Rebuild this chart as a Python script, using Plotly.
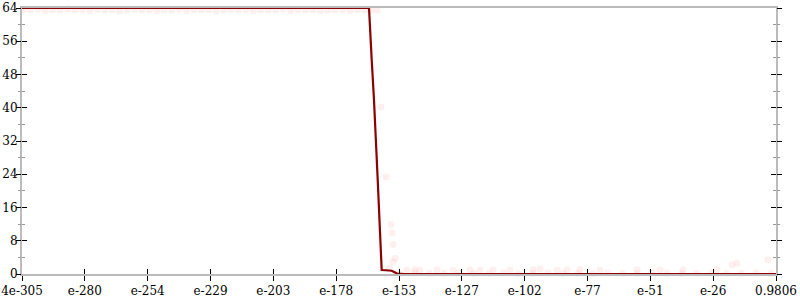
import plotly.graph_objects as go

# ---- data (x given as log10 of the value) ----
line_log10 = [-304.398, -280.0, -250.0, -220.0, -190.0, -164.31, -163.22, -162.30,
              -160.80, -159.99, -159.19, -157.5, -155.15, -153.0, -150.0, -100.0, -50.0, -0.0085]
line_y = [64, 64, 64, 64, 64, 64, 51.5, 41.9, 22.6, 13.0, 0.96, 0.9, 0.79, 0.1, 0.0, 0.0, 0.0, 0.0]

pts_log10 = [-304.0, -301.0, -298.0, -295.0, -292.0, -289.0, -286.0, -283.0, -280.0, -277.0,
             -274.0, -271.0, -268.0, -265.0, -262.0, -259.0, -256.0, -253.0, -250.0, -247.0,
             -244.0, -241.0, -238.0, -235.0, -232.0, -229.0, -226.0, -223.0, -220.0, -217.0,
             -214.0, -211.0, -208.0, -205.0, -202.0, -199.0, -196.0, -193.0, -190.0, -187.0,
             -184.0, -181.0, -178.0, -175.0, -172.0, -169.0, -166.0, -163.5, -161.0,
             -159.47, -157.45, -155.43, -154.62, -154.5, -153.82, -155.0, -156.0,
             -148.97, -145.74, -143.71, -136.85, -130.39, -123.54, -119.50, -114.25, -107.39,
             -98.11, -95.28, -88.42, -84.38, -79.13, -71.06, -56.12, -46.84, -37.55,
             -23.83, -17.77, -15.75, -3.24,
             -152.0, -146.0, -140.0, -134.0, -128.0, -122.0, -116.0, -110.0, -104.0, -98.0,
             -92.0, -86.0, -80.0, -74.0, -68.0, -62.0, -56.0, -50.0, -44.0, -38.0,
             -32.0, -26.0, -20.0, -14.0, -8.0, -2.0]
pts_y = [63.6, 63.5, 63.7, 63.4, 63.6, 63.5, 63.8, 63.5, 63.6, 63.4,
         63.7, 63.5, 63.6, 63.3, 63.5, 63.7, 63.5, 63.6, 63.4, 63.6,
         63.5, 63.7, 63.4, 63.6, 63.5, 63.6, 63.3, 63.5, 63.7, 63.5,
         63.6, 63.4, 63.5, 63.6, 63.5, 63.7, 63.4, 63.6, 63.5, 63.6,
         63.4, 63.5, 63.6, 63.5, 63.4, 63.6, 63.5, 63.4, 63.5,
         40.2, 23.4, 11.9, 7.1, 2.9, 3.8, 9.9, 1.4,
         0.9, 1.0, 0.9, 1.0, 0.9, 1.0, 0.9, 1.0, 0.9,
         1.0, 1.2, 0.9, 1.0, 1.1, 0.9, 1.0, 1.0, 1.0,
         1.0, 2.2, 2.6, 3.4,
         0.2, 0.3, 0.2, 0.1, 0.3, 0.2, 0.2, 0.3, 0.1, 0.2,
         0.3, 0.2, 0.2, 0.1, 0.3, 0.2, 0.2, 0.3, 0.2, 0.1,
         0.2, 0.3, 0.2, 0.2, 0.3, 0.2]

x_range_log10 = [-304.398, -0.0085]
tick_log10 = [-304.398, -279.03, -253.66, -228.30, -202.93, -177.57, -152.20,
              -126.83, -101.47, -76.10, -50.74, -25.37, -0.0085]
tick_text = ["4e-305", "e-280", "e-254", "e-229", "e-203", "e-178", "e-153",
             "e-127", "e-102", "e-77", "e-51", "e-26", "0.9806"]
y_range = [0, 64]

line_x = [10.0 ** v for v in line_log10]
pts_x = [10.0 ** v for v in pts_log10]
tick_vals = [10.0 ** v for v in tick_log10]

font = dict(family="DejaVu Serif", size=12, color="black")

fig = go.Figure()
fig.add_trace(go.Scatter(x=pts_x, y=pts_y, mode="markers",
                         marker=dict(size=7, color="rgba(255,40,40,0.07)", line=dict(width=0)),
                         cliponaxis=False, showlegend=False, hoverinfo="skip"))
fig.add_trace(go.Scatter(x=line_x, y=line_y, mode="lines",
                         line=dict(color="#8b0000", width=2.2),
                         cliponaxis=False, showlegend=False))
# invisible trace for overlay axes (other half of ticks)
fig.add_trace(go.Scatter(x=[tick_vals[0]], y=[0], xaxis="x2", yaxis="y2", mode="markers",
                         marker=dict(opacity=0), showlegend=False, hoverinfo="skip"))

fig.update_layout(
    width=800, height=300,
    margin=dict(l=22, r=24, t=8, b=26, autoexpand=False),
    paper_bgcolor="white", plot_bgcolor="white",
    font=font,
    xaxis=dict(type="log", range=x_range_log10, tickmode="array", tickvals=tick_vals,
               ticktext=tick_text, ticks="outside", ticklen=5, tickwidth=1, tickcolor="black",
               showline=True, linecolor="#bbbbbb", linewidth=2, mirror=True,
               showgrid=False, zeroline=False, tickfont=font, automargin=False),
    xaxis2=dict(type="log", range=x_range_log10, overlaying="x", anchor="y2",
                tickmode="array", tickvals=tick_vals, ticks="inside", ticklen=5, tickwidth=1,
                tickcolor="black", showticklabels=False, showline=False, showgrid=False,
                zeroline=False, automargin=False),
    yaxis=dict(range=y_range, tickmode="linear", tick0=0, dtick=8, ticks="inside",
               ticklen=5, tickwidth=1, tickcolor="black", showline=True,
               linecolor="#bbbbbb", linewidth=2, mirror="ticks", showgrid=False,
               zeroline=False, tickfont=font, automargin=False,
               minor=dict(ticks="inside", ticklen=3, tickwidth=1, tickcolor="#999999",
                          dtick=4, tick0=0, showgrid=False)),
    yaxis2=dict(range=y_range, overlaying="y", side="left", anchor="x2",
                tickmode="linear", tick0=0, dtick=8, ticks="outside", ticklen=5, tickwidth=1,
                tickcolor="black", showticklabels=False, showline=False, mirror="ticks",
                showgrid=False, zeroline=False, automargin=False,
                minor=dict(ticks="outside", ticklen=3, tickwidth=1, tickcolor="#999999",
                           dtick=4, tick0=0, showgrid=False)),
)

fig.write_html("out.html")
